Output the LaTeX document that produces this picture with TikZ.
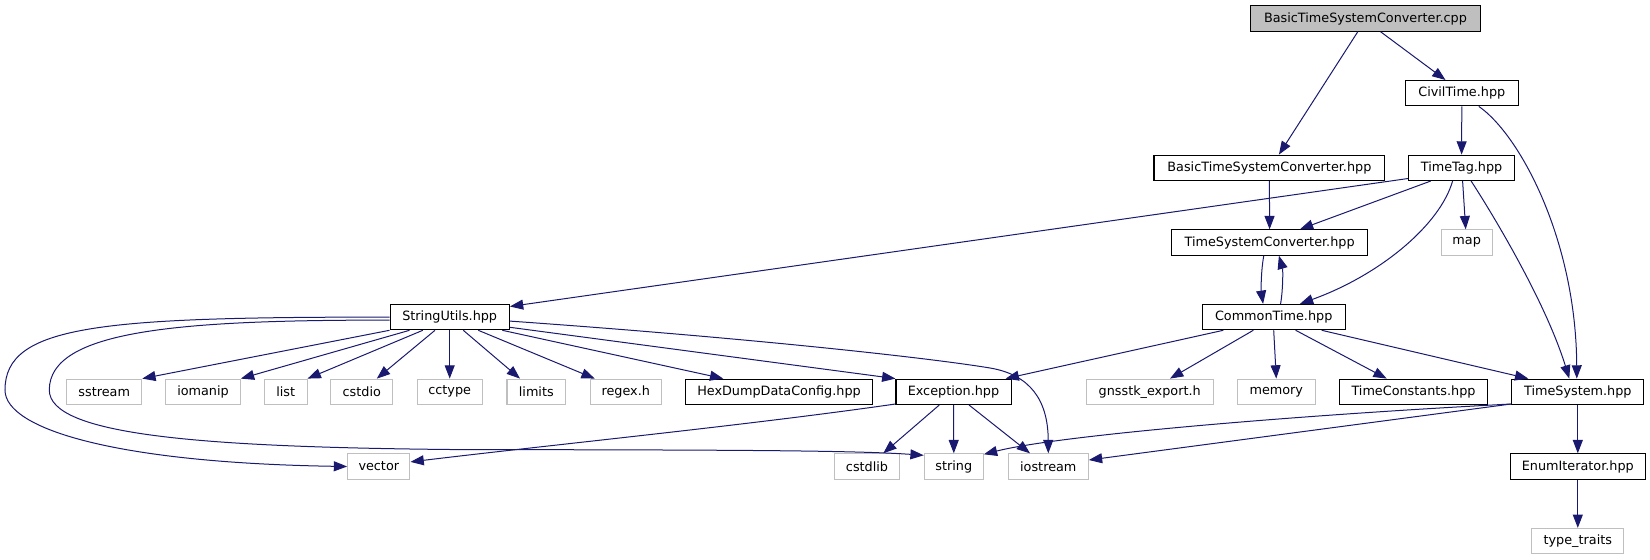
\documentclass[tikz,border=0pt]{standalone}
\usepackage{fontspec}
\setmainfont{DejaVu Sans}
\usetikzlibrary{arrows.meta,calc}
\definecolor{edgec}{HTML}{191970}
\definecolor{greyb}{HTML}{BFBFBF}
\begin{document}
\begin{tikzpicture}[x=0.75pt,y=-0.75pt,
  box/.style={rectangle, line width=0.8pt, minimum height=19pt, inner sep=0pt, font=\fontsize{9.6}{11}\selectfont, text=black},
  dbox/.style={box, draw=black, fill=white, minimum width=#1pt},
  ebox/.style={box, draw=greyb, fill=white, minimum width=#1pt},
  rbox/.style={box, draw=black, fill=greyb, minimum width=#1pt},
  dep/.style={draw=edgec, line width=0.75pt, -{Triangle[length=10pt,width=7.5pt]}}
]
\useasboundingbox (0,0) rectangle (1650,560);

% nodes
\node[rbox=172.0] (cpp) at (1365.5,18.5) {BasicTimeSystemConverter.cpp};
\node[dbox=84.5] (civ) at (1461.8,93.2) {CivilTime.hpp};
\node[dbox=173.1] (btsch) at (1269.4,167.8) {BasicTimeSystemConverter.hpp};
\node[dbox=79.5] (ttag) at (1461.6,167.8) {TimeTag.hpp};
\node[dbox=146.6] (tsc) at (1269.6,242.5) {TimeSystemConverter.hpp};
\node[ebox=38.1] (map) at (1466.7,242.5) {map};
\node[dbox=107.0] (ct) at (1273.7,317.1) {CommonTime.hpp};
\node[dbox=89.5] (su) at (449.7,317.1) {StringUtils.hpp};

\node[ebox=56.3] (sstream) at (104.2,391.8) {sstream};
\node[ebox=56.0] (iomanip) at (203,391.8) {iomanip};
\node[ebox=32.0] (list) at (285.7,391.8) {list};
\node[ebox=46.3] (cstdio) at (361.8,391.8) {cstdio};
\node[ebox=49.0] (cctype) at (449.7,391.8) {cctype};
\node[ebox=44.0] (limits) at (536.3,391.8) {limits};
\node[ebox=53.3] (regex) at (625.8,391.8) {regex.h};
\node[dbox=140.0] (hex) at (779,391.8) {HexDumpDataConfig.hpp};
\node[dbox=86.3] (exc) at (953.5,391.8) {Exception.hpp};
\node[ebox=95.0] (gnss) at (1149.7,391.8) {gnsstk\_export.h};
\node[ebox=58.5] (memory) at (1276.3,391.8) {memory};
\node[dbox=111.3] (tconst) at (1413.5,391.8) {TimeConstants.hpp};
\node[dbox=99.2] (tsys) at (1577.8,391.8) {TimeSystem.hpp};

\node[ebox=46.7] (vector) at (378.8,466.5) {vector};
\node[ebox=49.1] (cstdlib) at (867,466.5) {cstdlib};
\node[ebox=44.3] (string) at (953.8,466.5) {string};
\node[ebox=60.0] (iostream) at (1048.3,466.5) {iostream};
\node[dbox=101.3] (enum) at (1577.8,466.5) {EnumIterator.hpp};
\node[ebox=68.8] (ttraits) at (1577.8,541.1) {type\_traits};

% edges from the top part
\draw[dep] ($(cpp.south)+(-7.7,0)$) -- ($(btsch.north)+(9.5,0)$);
\draw[dep] ($(cpp.south)+(15,0)$) -- ($(civ.north)+(-16.3,0)$);
\draw[dep] (civ.south) -- (ttag.north);
\draw[dep] ($(civ.south)+(17,0)$) .. controls (1520,135) and (1576,240) .. ($(tsys.north)+(-1,0)$);
\draw[dep] (btsch.south) -- (tsc.north);
\draw[dep] ($(ttag.south west)+(0,-2.5)$) -- ($(su.north east)+(0,2.6)$);
\draw[dep] ($(ttag.south)+(-30.8,0)$) -- ($(tsc.north)+(30.3,0)$);
\draw[dep] ($(ttag.south)+(-9,0)$) .. controls (1440,225) and (1380,275) .. ($(ct.north)+(26.2,0)$);
\draw[dep] ($(ttag.south)+(1,0)$) -- ($(map.north)+(-1,0)$);
\draw[dep] ($(ttag.south)+(9.5,0)$) .. controls (1490,210) and (1545,300) .. ($(tsys.north)+(-8.5,0)$);
\draw[dep] ($(tsc.south)+(-5.8,0)$) .. controls (1261,270) and (1261,290) .. ($(ct.north)+(-10.6,0)$);
\draw[dep] ($(ct.north)+(6.9,0)$) .. controls (1283,290) and (1283,270) .. ($(tsc.south)+(9.3,0)$);

% CommonTime
\draw[dep] ($(ct.south)+(-50.4,0)$) -- ($(exc.north east)+(-6,0)$);
\draw[dep] ($(ct.south)+(-20.4,0)$) -- ($(gnss.north)+(20.3,0)$);
\draw[dep] (ct.south) -- (memory.north);
\draw[dep] ($(ct.south)+(22,0)$) -- ($(tconst.north)+(-26.8,0)$);
\draw[dep] ($(ct.south)+(48,0)$) -- ($(tsys.north)+(-49.5,0)$);

% TimeSystem
\draw[dep] ($(tsys.south west)+(0,-1)$) .. controls (1300,415) and (1060,435) .. ($(string.north east)+(0,1)$);
\draw[dep] ($(tsys.south west)+(0,-1)$) -- ($(iostream.east)+(0,-6.5)$);
\draw[dep] (tsys.south) -- (enum.north);
\draw[dep] (enum.south) -- (ttraits.north);

% StringUtils
\draw[dep] (su.south west) -- (sstream.north east);
\draw[dep] ($(su.south west)+(20,0)$) -- (iomanip.north east);
\draw[dep] ($(su.south west)+(33.3,0)$) -- (list.north east);
\draw[dep] ($(su.south)+(-14.7,0)$) -- ($(cstdio.north)+(15,0)$);
\draw[dep] (su.south) -- (cctype.north);
\draw[dep] ($(su.south)+(13.6,0)$) -- ($(limits.north)+(-16.3,0)$);
\draw[dep] ($(su.south)+(28.6,0)$) -- ($(regex.north west)+(5,0)$);
\draw[dep] ($(su.south east)+(-7.6,0)$) -- ($(hex.north)+(-55.7,0)$);
\draw[dep] ($(su.south east)+(0,-3)$) -- (exc.north west);
\draw[dep] ($(su.east)+(0,4)$) .. controls (750,338) and (930,358) .. (990,368) .. controls (1030,374.7) and (1048,400) .. (iostream.north);
\draw[dep] (su.west) .. controls (100,317) and (5,325) .. (5,390) .. controls (5,430) and (120,463) .. (vector.west);
\draw[dep] ($(su.west)+(0,3)$) .. controls (180,320) and (49.3,330) .. (49.3,390) .. controls (49.3,435) and (200,447) .. (450,449.5) .. controls (700,450) and (850,450) .. ($(string.north west)+(0,2)$);

% Exception
\draw[dep] ($(exc.south west)+(0,-1)$) .. controls (750,425) and (550,445) .. ($(vector.east)+(0,-4.6)$);
\draw[dep] ($(exc.south)+(-14.2,0)$) -- ($(cstdlib.north)+(16.3,0)$);
\draw[dep] (exc.south) -- (string.north);
\draw[dep] ($(exc.south)+(15.5,0)$) -- ($(iostream.north)+(-18.3,0)$);
\end{tikzpicture}
\end{document}
